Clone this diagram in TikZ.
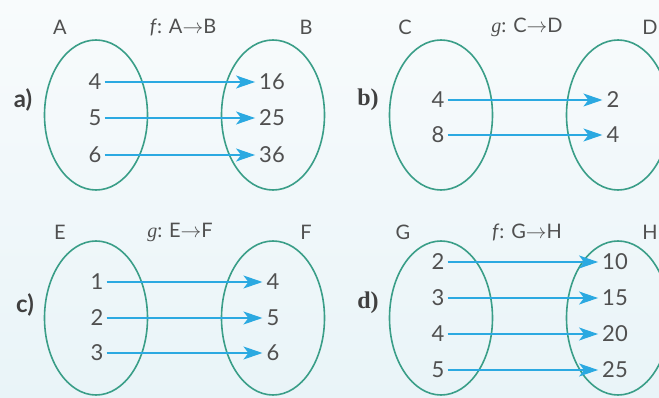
\documentclass[tikz,border=0pt]{standalone}
\usepackage{fontspec}
\setmainfont{Lato}
\newfontfamily\serfont{Liberation Serif}
\usetikzlibrary{arrows.meta,shapes.geometric}
\definecolor{ellc}{HTML}{3A9E88}
\definecolor{arrc}{HTML}{2BA9E1}
\definecolor{txtc}{HTML}{505050}
\definecolor{bgtop}{HTML}{F8FBFC}
\definecolor{bgbot}{HTML}{E9F4F8}
\begin{document}
\begin{tikzpicture}[x=1pt,y=-1pt,
  setshape/.style={draw=ellc, line width=1.6pt, ellipse, minimum width=103pt, minimum height=150pt, inner sep=0},
  num/.style={text=txtc, font=\fontsize{22}{25}\selectfont, inner sep=3pt},
  ttl/.style={text=txtc, font=\fontsize{20}{23}\selectfont, inner sep=0},
  plab/.style={text=txtc!80!black, font=\fontsize{24}{27}\selectfont\bfseries, inner sep=0},
  conn/.style={draw=arrc, line width=1.1pt, -{Stealth[length=19pt,width=13pt,inset=5pt]}, shorten >=1pt}]
\useasboundingbox (0,0) rectangle (659,398);
\clip (0,0) rectangle (659,398);
\fill[top color=bgtop, bottom color=bgbot] (0,0) rectangle (659,398);

% ---- panel a ----
\node[setshape] (SA) at (96,115) {};
\node[setshape] (SB) at (273,115) {};
\node[ttl] (tA) at (60,27) {A};
\node[ttl] (fA) at (183,27) {\textit{f}: A$\mathbf{\to}$B};
\node[ttl] (tB) at (306,27) {B};
\node[plab] (la) at (23,100) {a)};
\node[num] (a1) at (95,82) {4};
\node[num] (a2) at (95,118) {5};
\node[num] (a3) at (95,155) {6};
\node[num] (b1) at (272,82) {16};
\node[num] (b2) at (272,118) {25};
\node[num] (b3) at (272,155) {36};
\draw[conn] (a1) -- (b1);
\draw[conn] (a2) -- (b2);
\draw[conn] (a3) -- (b3);

% ---- panel b ----
\node[setshape] (SC) at (441,115) {};
\node[setshape] (SD) at (618,115) {};
\node[ttl] (tC) at (405,27) {C};
\node[ttl] (gC) at (527,27) {{\serfont\textit{g}}: C$\mathbf{\to}$D};
\node[ttl] (tD) at (650,27) {D};
\node[plab, font=\fontsize{24}{27}\selectfont\serfont\bfseries] (lb) at (368,100) {b)};
\node[num] (c1) at (438,100) {4};
\node[num] (c2) at (438,135) {8};
\node[num] (d1) at (613,100) {2};
\node[num] (d2) at (613,135) {4};
\draw[conn] (c1) -- (d1);
\draw[conn] (c2) -- (d2);

% ---- panel c ----
\node[setshape, minimum height=154pt] (SE) at (96,318) {};
\node[setshape, minimum height=154pt] (SF) at (273,318) {};
\node[ttl] (tE) at (60,232) {E};
\node[ttl] (gE) at (180,232) {{\serfont\textit{g}}: E$\mathbf{\to}$F};
\node[ttl] (tF) at (306,232) {F};
\node[plab] (lc) at (25,305) {c)};
\node[num] (e1) at (97,282) {1};
\node[num] (e2) at (97,318) {2};
\node[num] (e3) at (97,353) {3};
\node[num] (f1) at (273,282) {4};
\node[num] (f2) at (273,318) {5};
\node[num] (f3) at (273,353) {6};
\draw[conn] (e1) -- (f1);
\draw[conn] (e2) -- (f2);
\draw[conn] (e3) -- (f3);

% ---- panel d ----
\node[setshape, minimum height=154pt] (SG) at (441,318) {};
\node[setshape, minimum height=154pt] (SH) at (618,318) {};
\node[ttl] (tG) at (403,232) {G};
\node[ttl] (fG) at (527,232) {\textit{f}: G$\mathbf{\to}$H};
\node[ttl] (tH) at (650,232) {H};
\node[plab, font=\fontsize{24}{27}\selectfont\serfont\bfseries] (ld) at (368,303) {d)};
\node[num] (g1) at (438,262) {2};
\node[num] (g2) at (438,298) {3};
\node[num] (g3) at (438,334) {4};
\node[num] (g4) at (438,370) {5};
\node[num] (h1) at (615,262) {10};
\node[num] (h2) at (615,298) {15};
\node[num] (h3) at (615,334) {20};
\node[num] (h4) at (615,370) {25};
\draw[conn] (g1) -- (h1);
\draw[conn] (g2) -- (h2);
\draw[conn] (g3) -- (h3);
\draw[conn] (g4) -- (h4);
\end{tikzpicture}
\end{document}
